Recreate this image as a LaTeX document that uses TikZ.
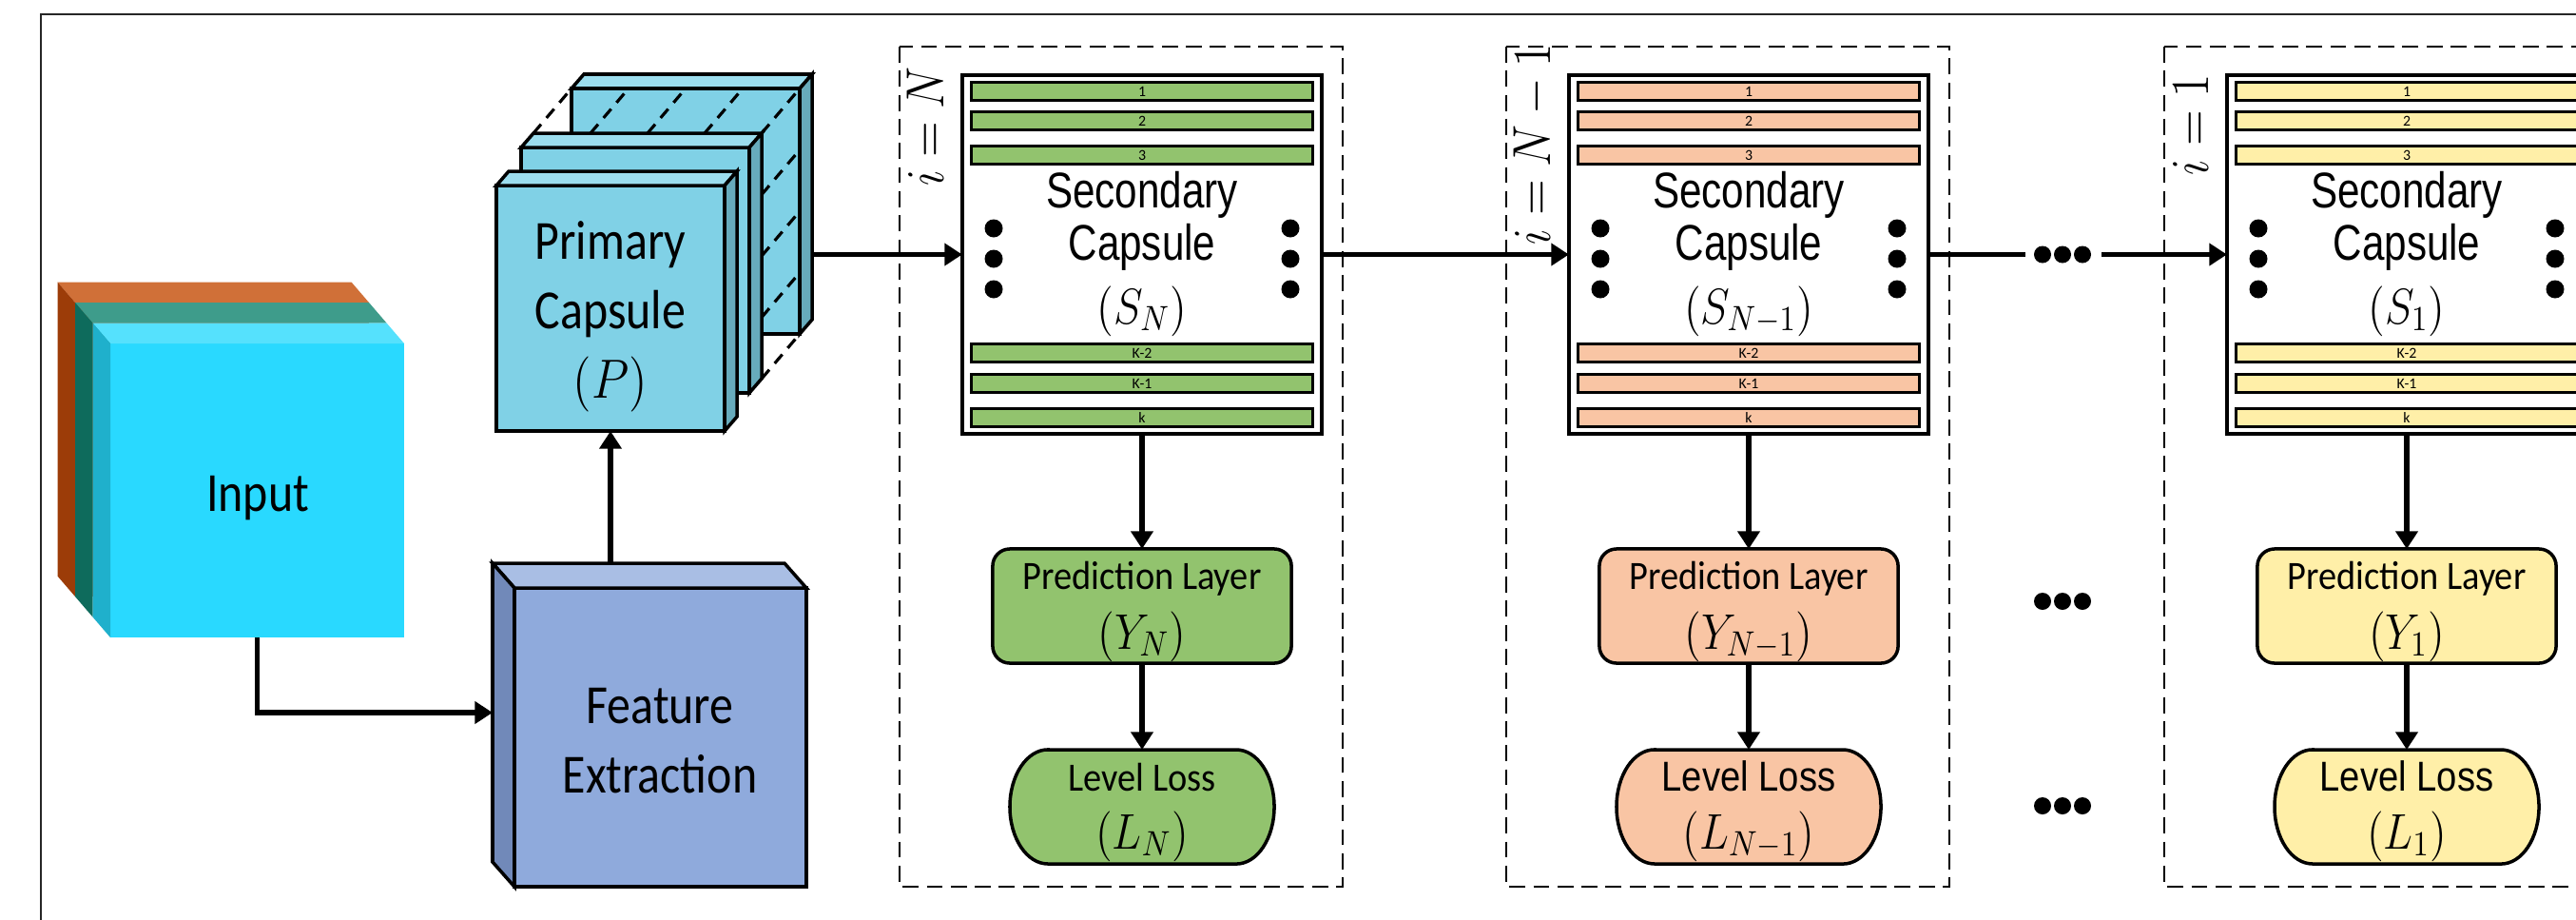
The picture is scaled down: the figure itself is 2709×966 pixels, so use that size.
\RequirePackage{fix-cm}
\documentclass[tikz,border=0pt]{standalone}
\usepackage{graphicx}
\usepackage{fontspec}
\usetikzlibrary{arrows.meta}
\newfontfamily\fntBig[FakeStretch=0.86]{Carlito}
\newfontfamily\fntSmall[FakeStretch=0.91]{Carlito}
\newfontfamily\fntSec[FakeStretch=0.80]{Liberation Sans}
\newfontfamily\fntLoss[FakeStretch=0.87]{Liberation Sans}
\newfontfamily\fntBar{Carlito}
\newcommand\mth[1]{\scalebox{0.88}[1]{$#1$}}

\definecolor{inOrT}{HTML}{D07038}
\definecolor{inOrS}{HTML}{9C3C08}
\definecolor{inTeT}{HTML}{3E9C8B}
\definecolor{inTeS}{HTML}{0E6B5C}
\definecolor{inCyF}{HTML}{29D9FF}
\definecolor{inCyT}{HTML}{55E1FD}
\definecolor{inCyS}{HTML}{1FB0CC}
\definecolor{primF}{HTML}{80D1E6}
\definecolor{primT}{HTML}{9CDDEE}
\definecolor{primS}{HTML}{67ABBC}
\definecolor{feF}{HTML}{8FAADC}
\definecolor{feT}{HTML}{A9BEE4}
\definecolor{feS}{HTML}{7189B9}
\definecolor{grn}{HTML}{92C36E}
\definecolor{org}{HTML}{F9C5A4}
\definecolor{yel}{HTML}{FFEFA8}

\tikzset{
  boxline/.style={draw=black, line width=1pt, line join=miter},
  arr/.style={line width=1.45pt, -{Triangle[length=5.3pt,width=6.5pt]}},
  plainline/.style={line width=1.45pt},
  panelbox/.style={draw=black, line width=0.6pt, dash pattern=on 4.8pt off 2.4pt},
  depthline/.style={draw=black, line width=0.9pt, dash pattern=on 3.5pt off 2.5pt},
  sbox/.style={draw=black, line width=1pt, fill=white, minimum width=3.78cm, minimum height=3.77cm, inner sep=0, outer sep=0},
  barbox/.style={draw=black, line width=0.85pt, minimum width=3.58cm, minimum height=0.185cm, inner sep=0, outer sep=0, font=\fontsize{4.5}{5}\fntBar},
  ybox/.style={draw=black, line width=1pt, rounded corners=0.18cm, minimum width=3.14cm, minimum height=1.2cm, inner sep=0, outer sep=0},
  holder/.style={inner sep=0, outer sep=0},
  bigtext/.style={font=\fontsize{16.5}{19}\fntBig, anchor=base, inner sep=0},
  sectext/.style={font=\fontsize{15}{18}\fntSec, anchor=base, inner sep=0},
  predtext/.style={font=\fontsize{12}{14}\fntSmall, anchor=base, inner sep=0},
  mathtext/.style={font=\fontsize{15}{18}\selectfont, anchor=base, inner sep=0},
  ilabel/.style={font=\fontsize{16}{19}\selectfont, rotate=90, anchor=base, inner sep=0},
}

% cuboid with depth to the right: [opts]{x}{y}{w}{h}{dx}{dy}
\newcommand\cubeR[7][]{%
  \path[#1, fill=cF] (#2,#3) rectangle (#2+#4,#3+#5);
  \path[#1, fill=cT] (#2,#3) -- (#2+#6,#3+#7) -- (#2+#4+#6,#3+#7) -- (#2+#4,#3) -- cycle;
  \path[#1, fill=cS] (#2+#4,#3) -- (#2+#4+#6,#3+#7) -- (#2+#4+#6,#3+#5+#7) -- (#2+#4,#3+#5) -- cycle;
}
% cuboid with depth to the left
\newcommand\cubeL[7][]{%
  \path[#1, fill=cF] (#2,#3) rectangle (#2+#4,#3+#5);
  \path[#1, fill=cT] (#2,#3) -- (#2+#6,#3+#7) -- (#2+#4+#6,#3+#7) -- (#2+#4,#3) -- cycle;
  \path[#1, fill=cS] (#2,#3) -- (#2+#6,#3+#7) -- (#2+#6,#3+#5+#7) -- (#2,#3+#5) -- cycle;
}

% panel: {prefix}{cx}{colour}{subscript}{i label}{label y}{loss font}
\newcommand\capsPanel[7]{%
  \draw[panelbox] (#2-255,49) rectangle (#2+211,932);
  \node[sbox] (#1S) at (#2,267.5) {};
  \foreach \yy/\lbl [count=\k] in {96/1,127/2,163/3,371/K-2,403/K-1,439/k}
    \node[barbox, fill=#3] (#1b\k) at (#2,\yy) {\lbl};
  \foreach \yy in {240,272,304} {
    \fill (#2-156,\yy) circle[radius=0.095cm];
    \fill (#2+156,\yy) circle[radius=0.095cm];
  }
  \node[sectext] (#1t1) at (#2,218) {Secondary};
  \node[sectext] (#1t2) at (#2,273) {Capsule};
  \node[mathtext] (#1t3) at (#2,340) {\mth{(S_{#4})}};
  \node[ybox, fill=#3] (#1Y) at (#2,637) {};
  \node[predtext] (#1t4) at (#2,619) {Prediction Layer};
  \node[mathtext] (#1t5) at (#2,682) {\mth{(Y_{#4})}};
  \draw[boxline, fill=#3] (#2-99,788) -- (#2+99,788)
     arc[start angle=90, end angle=-90, x radius=0.4cm, y radius=0.6cm]
     -- (#2-99,908)
     arc[start angle=270, end angle=90, x radius=0.4cm, y radius=0.6cm] -- cycle;
  \node[holder, minimum width=2.78cm, minimum height=1.2cm] (#1L) at (#2,848) {};
  \node[font=#7, anchor=base, inner sep=0] (#1t6) at (#2,831) {Level Loss};
  \node[mathtext] (#1t7) at (#2,892) {\mth{(L_{#4})}};
  \draw[arr] (#1S.south) -- (#1Y.north);
  \draw[arr] (#1Y.south) -- (#1L.north);
  \node[ilabel] (#1i) at (#2-209,#6) {\mth{i = #5}};
}

\begin{document}
\begin{tikzpicture}[x=0.01cm, y=-0.01cm]
\useasboundingbox (0,0) rectangle (2709,966);
\clip (0,0) rectangle (2709,966);
\fill[white] (0,0) rectangle (2709,966);

% outer frame (cropped)
\draw[line width=0.6pt, draw=black!85] (43,990) -- (43,15) -- (2730,15);

% ---------- Input stack ----------
\colorlet{cF}{inOrT}\colorlet{cT}{inOrT}\colorlet{cS}{inOrS}
\cubeL{79}{318}{309}{309}{-18.5}{-21.5}
\colorlet{cF}{inTeT}\colorlet{cT}{inTeT}\colorlet{cS}{inTeS}
\cubeL{97.5}{339.5}{309}{309}{-18.5}{-21.5}
\colorlet{cF}{inCyF}\colorlet{cT}{inCyT}\colorlet{cS}{inCyS}
\cubeL{116}{361}{309}{309}{-18.5}{-21.5}
\node[holder, minimum width=3.09cm, minimum height=3.09cm] (inp) at (270.5,515.5) {};
\node[bigtext] (inpT) at (271,537) {Input};

% ---------- Feature extraction ----------
\colorlet{cF}{feF}\colorlet{cT}{feT}\colorlet{cS}{feS}
\cubeL[boxline]{541}{618}{307}{314}{-23}{-26}
\node[holder, minimum width=3.07cm, minimum height=3.14cm] (fe) at (694.5,775) {};
\node[bigtext] (feT1) at (694,760) {Feature};
\node[bigtext] (feT2) at (694,833) {Extraction};

% ---------- Primary capsule stack ----------
\colorlet{cF}{primF}\colorlet{cT}{primT}\colorlet{cS}{primS}
\cubeR[boxline]{601}{93}{240}{258}{13}{-15}
\foreach \k in {0,1,2,3,4}
  \draw[depthline] (561+60*\k,140) -- (601+60*\k,93);
\foreach \k in {1,2,3,4}
  \draw[depthline] (801,140+64.5*\k) -- (841,93+64.5*\k);
\cubeR[boxline]{548}{155}{240}{258}{13}{-15}
\cubeR[boxline]{522}{195}{240}{258}{13}{-15}
\node[holder, minimum width=2.4cm, minimum height=2.58cm] (prim) at (642,324) {};
\node[bigtext] (primT1) at (642,272) {Primary};
\node[bigtext] (primT2) at (642,345) {Capsule};
\node[font=\fontsize{16.5}{19}\selectfont, anchor=base, inner sep=0] (primT3) at (642,418) {\mth{(P)}};

% connectors on the left
\coordinate (feIn) at (518,749);
\coordinate (feTop) at (642,592);
\coordinate (primOut) at (854,267.5);
\draw[arr] (inp.south) |- (feIn);
\draw[arr] (feTop) -- (prim.south);

% ---------- Panels ----------
\capsPanel{Pa}{1201}{grn}{N}{N}{133}{\fontsize{12}{14}\fntSmall}
\capsPanel{Pb}{1839}{org}{N-1}{N-1}{152}{\fontsize{12.5}{15}\fntLoss}
\capsPanel{Pc}{2531}{yel}{1}{1}{131}{\fontsize{12.5}{15}\fntLoss}

% connectors between panels
\draw[arr] (primOut) -- (PaS.west);
\draw[arr] (PaS.east) -- (PbS.west);
\coordinate (gapA) at (2130,267.5);
\coordinate (gapB) at (2210,267.5);
\draw[plainline] (PbS.east) -- (gapA);
\draw[arr] (gapB) -- (PcS.west);
\foreach \xx in {2148,2169,2190} {
  \fill (\xx,267.5) circle[radius=0.09cm];
  \fill (\xx,632) circle[radius=0.09cm];
  \fill (\xx,847) circle[radius=0.09cm];
}
\end{tikzpicture}
\end{document}
